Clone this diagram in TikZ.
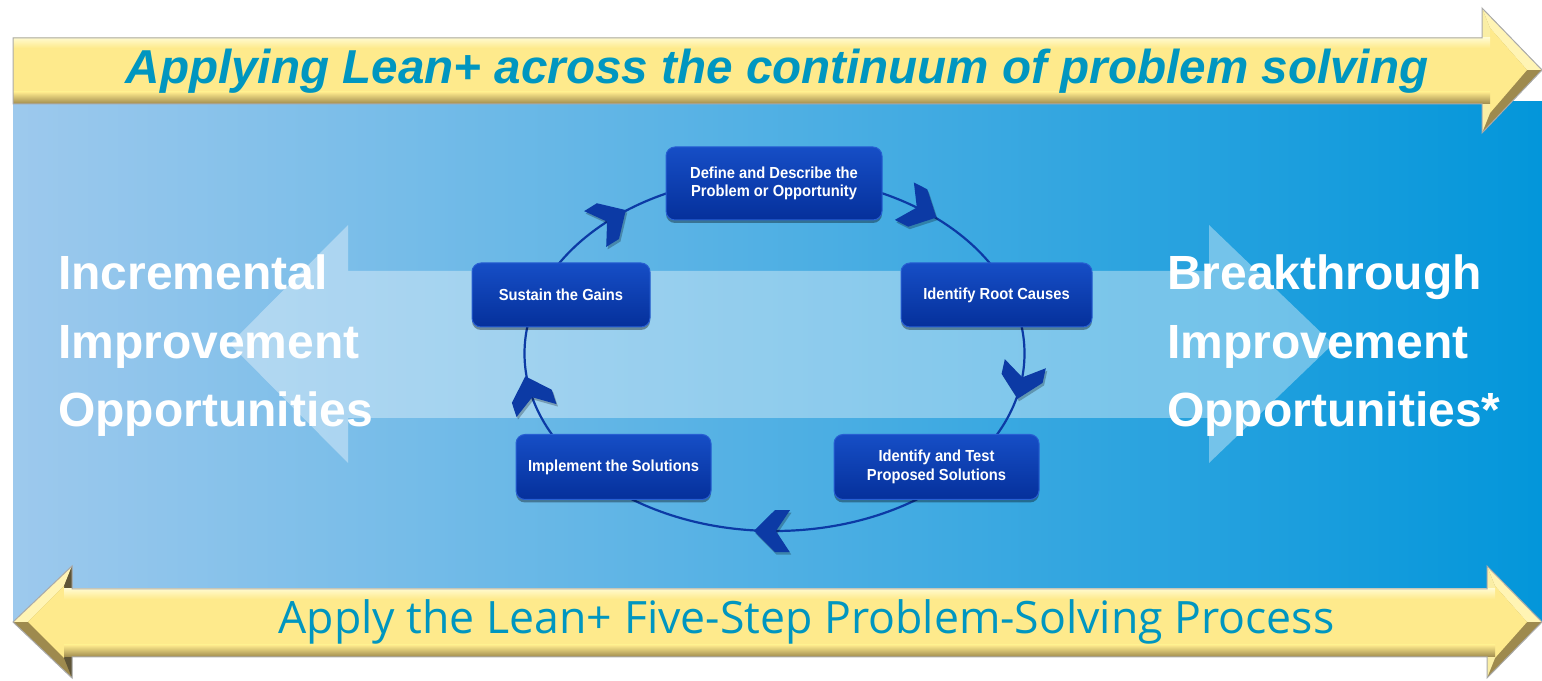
\documentclass[tikz,border=0pt]{standalone}
\usepackage{fontspec}
\setmainfont{Liberation Sans}
\newfontfamily\boxfont{Liberation Sans}[FakeStretch=0.92]
\newfontfamily\subfont{Open Sans}
\usetikzlibrary{shapes.geometric,calc,shadows}

\definecolor{panelL}{RGB}{157,201,237}
\definecolor{panelR}{RGB}{3,150,218}
\definecolor{inkteal}{RGB}{0,150,192}
\definecolor{ymain}{RGB}{254,234,140}
\definecolor{ylight}{RGB}{255,250,205}
\definecolor{yhigh}{RGB}{255,244,180}
\definecolor{ydark}{RGB}{158,138,78}
\definecolor{yback}{RGB}{250,238,165}
\definecolor{yshade}{RGB}{95,85,55}
\definecolor{yrim}{RGB}{170,170,170}
\definecolor{ringblue}{RGB}{12,58,165}
\definecolor{boxtop}{RGB}{22,78,198}
\definecolor{boxbot}{RGB}{5,48,155}
\definecolor{boxrim}{RGB}{40,95,210}

% bevelled arrow head: back-top, tip, back-bottom, inner face corners, colour of the back bevel
\newcommand\bevelhead[7]{%
  \fill[ydark] #1 -- #2 -- #3 -- cycle;
  \fill[yhigh] #1 -- #2 -- #5 -- #4 -- cycle;
  \fill[#7] #1 -- #4 -- #6 -- #3 -- cycle;
  \fill[ymain] #4 -- #5 -- #6 -- cycle;}
% bevelled arrow shaft: x from, x to, y bottom, y top
\newcommand\bevelbar[4]{%
  \fill[ymain] (#1,#3) rectangle (#2,#4);
  \shade[top color=ylight,bottom color=ymain] (#1,{#4-10}) rectangle (#2,#4);
  \shade[top color=ymain,bottom color=ydark] (#1,#3) rectangle (#2,{#3+12});}
% chevron on the cycle ring at parameter angle #1, pointing along #2
\newcommand\chevat[2]{%
  \fill[black,opacity=0.25,shift={($(ring.center)+({250*cos(#1)},{177.5*sin(#1)})+(1.5,-2.5)$)},rotate=#2]
    (18,0) -- (-3,21) -- (-18,21) -- (-4,0) -- (-18,-21) -- (-3,-21) -- cycle;
  \fill[ringblue,shift={($(ring.center)+({250*cos(#1)},{177.5*sin(#1)})$)},rotate=#2]
    (18,0) -- (-3,21) -- (-18,21) -- (-4,0) -- (-18,-21) -- (-3,-21) -- cycle;}

\begin{document}
\begin{tikzpicture}[x=1pt,y=1pt,
  stepbox/.style={rounded corners=9pt,top color=boxtop,bottom color=boxbot,
    draw=boxrim,line width=1pt,text=white,align=center,inner sep=0pt,
    font=\boxfont\bfseries\fontsize{16}{18.7}\selectfont,
    drop shadow={shadow xshift=0pt,shadow yshift=-3pt,opacity=0.35,fill=black}},
  sidetext/.style={text=white,inner sep=0pt,anchor=base west,
    font=\bfseries\fontsize{48}{56}\selectfont}]
\useasboundingbox (0,0) rectangle (1542,680);

% blue panel
\shade[left color=panelL,right color=panelR] (13,58) rectangle (1542,578);

% wide translucent double arrow
\fill[white,opacity=0.37] (230,336) -- (348,455) -- (348,409) -- (1209,409) -- (1209,455)
  -- (1333,336) -- (1209,217) -- (1209,262) -- (348,262) -- (348,217) -- cycle;

% side labels
\node[sidetext] (inc1) at (58,390) {Incremental};
\node[sidetext] (inc2) at (58,321.7) {Improvement};
\node[sidetext] (inc3) at (58,253.3) {Opportunities};
\node[sidetext] (brk1) at (1167,390) {Breakthrough};
\node[sidetext] (brk2) at (1167,321.7) {Improvement};
\node[sidetext] (brk3) at (1167,253.3) {Opportunities*};

% cycle ring and direction chevrons
\node[ellipse,draw=ringblue,line width=2.2pt,minimum width=500,minimum height=355,inner sep=0pt] (ring) at (774.5,326.5) {};
\chevat{131}{31.7}
\chevat{54.3}{-27}
\chevat{-9}{-102.5}
\chevat{269.4}{179.6}
\chevat{193}{108}

% process steps
\node[stepbox,minimum width=216,minimum height=73] (define) at (774,496.5) {Define and Describe the\\Problem or Opportunity};
\node[stepbox,minimum width=191,minimum height=64] (root) at (996.5,385) {Identify Root Causes};
\node[stepbox,minimum width=205,minimum height=65] (test) at (936.5,213) {Identify and Test\\Proposed Solutions};
\node[stepbox,minimum width=195,minimum height=65] (implement) at (613.5,213) {Implement the Solutions};
\node[stepbox,minimum width=178,minimum height=64] (sustain) at (561,385) {Sustain the Gains};

% top banner arrow
\bevelhead{(1482,672)}{(1542,610)}{(1482,547)}{(1490,652)}{(1527,610)}{(1490,567)}{yback}
\bevelbar{13}{1490}{576}{642}
\draw[yrim,line width=1pt] (13,576) -- (13,642) -- (1482,642) -- (1482,672) -- (1542,610)
  -- (1482,547) -- (1482,576) -- cycle;

% bottom banner double arrow
\bevelhead{(72,114)}{(13,58)}{(72,2)}{(64,94)}{(28,58)}{(64,22)}{yshade}
\bevelhead{(1487,114)}{(1542,58)}{(1487,2)}{(1495,94)}{(1527,58)}{(1495,22)}{yback}
\bevelbar{64}{1495}{23}{91}
\draw[yrim,line width=1pt] (13,58) -- (72,114) -- (72,91) -- (1487,91) -- (1487,114) -- (1542,58)
  -- (1487,2) -- (1487,23) -- (72,23) -- (72,2) -- cycle;

% banner texts
\node[text=inkteal,inner sep=0pt,anchor=base,font=\bfseries\itshape\fontsize{47.6}{56}\selectfont]
  (title) at (777,596.7) {Applying Lean+ across the continuum of problem solving};
\node[text=inkteal,inner sep=0pt,anchor=base,font=\subfont\fontsize{44.6}{52}\selectfont]
  (subtitle) at (806.5,46.7) {Apply the Lean+ Five-Step Problem-Solving Process};
\end{tikzpicture}
\end{document}
